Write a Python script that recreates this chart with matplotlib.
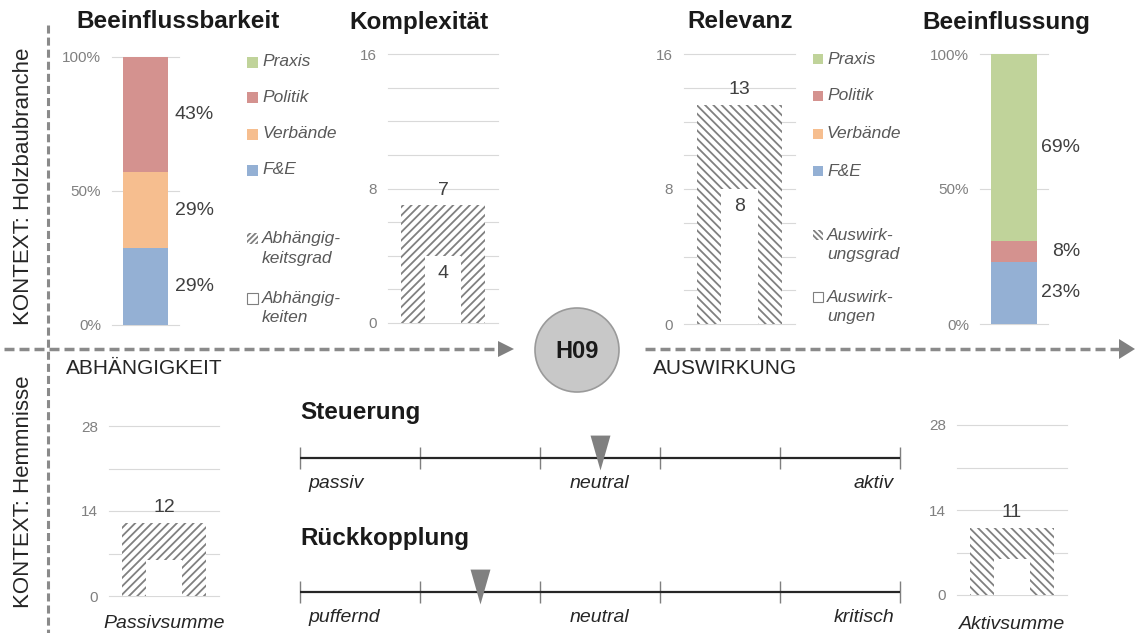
import numpy as np
import matplotlib
matplotlib.use("Agg")
import matplotlib.pyplot as plt
from matplotlib.patches import Circle, Rectangle, Polygon

plt.rcParams["font.family"] = ["Liberation Sans", "DejaVu Sans"]
plt.rcParams["hatch.linewidth"] = 1.3
plt.rcParams["hatch.color"] = "#808080"
plt.rcParams["lines.scale_dashes"] = False

W, H = 1135, 633

# ---- data ----
sources = ["Praxis", "Politik", "Verbände", "F&E"]
source_colors = ["#c0d39a", "#d4928f", "#f6be8f", "#94b0d4"]
beeinflussbarkeit = [0, 3, 2, 2]     # Nennungen je Akteursgruppe
beeinflussung = [9, 1, 0, 3]

abhaengigkeitsgrad = 7
abhaengigkeiten = 4
auswirkungsgrad = 13
auswirkungen = 8
passivsumme = 12
passiv_basis = 6
aktivsumme = 11
aktiv_basis = 6

steuerung = 0.0          # Skala -1 (passiv) .. 1 (aktiv)
rueckkopplung = -0.4     # Skala -1 (puffernd) .. 1 (kritisch)
steuerung_labels = ["passiv", "neutral", "aktiv"]
rueckkopplung_labels = ["puffernd", "neutral", "kritisch"]

TITLE = "#1a1a1a"
LABEL = "#404040"
TICK = "#808080"
LEGEND = "#595959"
GRID = "#d9d9d9"
HATCH = "#808080"
DASH = "#8a8a8a"
FWD, BWD = "////", "\\\\\\\\"

fig = plt.figure(figsize=(W / 100, H / 100), dpi=100)

ov = fig.add_axes([0, 0, 1, 1])
ov.set_xlim(0, W)
ov.set_ylim(H, 0)
ov.axis("off")


def px_axes(x0, y0, x1, y1):
    ax = fig.add_axes([x0 / W, 1 - y1 / H, (x1 - x0) / W, (y1 - y0) / H])
    ax.set_facecolor("none")
    for s in ax.spines.values():
        s.set_visible(False)
    ax.tick_params(axis="both", length=0, labelsize=11, labelcolor=TICK, pad=8)
    ax.set_xticks([])
    return ax


def grid(ax, values):
    for v in values:
        ax.axhline(v, color=GRID, lw=0.8, zorder=1, clip_on=False)


def stacked(ax, counts, label_x):
    total = sum(counts)
    shares = [100 * c / total for c in counts]
    bottom = 0
    for share, color in zip(shares[::-1], source_colors[::-1]):
        if share > 0:
            ax.bar(0, share, bottom=bottom, width=0.67, color=color, lw=0, zorder=2)
            ax.text(label_x, bottom + share / 2, f"{share:.0f}%", ha="right",
                    va="center", fontsize=14, color=LABEL)
        bottom += share
    ax.set_xlim(-0.5, 0.5)
    ax.set_ylim(0, 100)
    grid(ax, [0, 50, 100])
    ax.set_yticks([0, 50, 100], ["0%", "50%", "100%"])


def hatched(ax, outer, inner, hatch, ymax, step, ticks, w_out, w_in, inner_label=True):
    ax.bar(0, outer, width=w_out, facecolor="white", edgecolor=HATCH, lw=0,
           hatch=hatch, zorder=2)
    ax.bar(0, inner, width=w_in, facecolor="white", edgecolor="white", lw=0, zorder=3)
    ax.annotate(str(outer), (0, outer), xytext=(0, 11), textcoords="offset points",
                ha="center", va="center", fontsize=14, color=LABEL, zorder=4)
    if inner_label:
        ax.annotate(str(inner), (0, inner), xytext=(0, -12.5), textcoords="offset points",
                    ha="center", va="center", fontsize=14, color=LABEL, zorder=4)
    ax.set_xlim(-0.5, 0.5)
    ax.set_ylim(0, ymax)
    grid(ax, np.arange(0, ymax + step, step))
    ax.set_yticks(ticks)


# ---- top row ----
ax1 = px_axes(112, 57, 179, 325)
stacked(ax1, beeinflussbarkeit, 1.02)

ax2 = px_axes(388, 54, 498, 323)
hatched(ax2, abhaengigkeitsgrad, abhaengigkeiten, FWD, 16, 2, [0, 8, 16], 0.77, 0.33)

ax3 = px_axes(684, 54, 795, 324)
hatched(ax3, auswirkungsgrad, auswirkungen, BWD, 16, 2, [0, 8, 16], 0.77, 0.33)

ax4 = px_axes(980, 54, 1048, 324)
stacked(ax4, beeinflussung, 0.97)

# ---- bottom row ----
ax5 = px_axes(109, 426, 219, 596)
hatched(ax5, passivsumme, passiv_basis, FWD, 28, 7, [0, 14, 28], 0.76, 0.32, False)
ax5.set_xticks([0], ["Passivsumme"])
ax5.tick_params(axis="x", labelsize=14, labelcolor="#262626", pad=14)
ax5.get_xticklabels()[0].set_fontstyle("italic")

ax6 = px_axes(957, 425, 1067, 595)
hatched(ax6, aktivsumme, aktiv_basis, BWD, 28, 7, [0, 14, 28], 0.77, 0.33, False)
ax6.set_xticks([0], ["Aktivsumme"])
ax6.tick_params(axis="x", labelsize=14, labelcolor="#262626", pad=15)
ax6.get_xticklabels()[0].set_fontstyle("italic")

# ---- titles ----
for x, t in [(178, "Beeinflussbarkeit"), (419, "Komplexität"),
             (740, "Relevanz"), (1006, "Beeinflussung")]:
    ov.text(x, 22, t, ha="center", va="center", fontsize=17.5,
            fontweight="bold", color=TITLE)


# ---- legends ----
def legend(mx, tx, ys, extra, sq=10):
    h2 = sq / 2
    for (y, name, color) in zip(ys, sources, source_colors):
        ov.add_patch(Rectangle((mx - h2, y - h2), sq, sq, facecolor=color, lw=0))
        ov.text(tx, y, name, ha="left", va="center", fontsize=12.5,
                fontstyle="italic", color=LEGEND)
    (y1, l1a, l1b, h), (y2, l2a, l2b) = extra
    ov.add_patch(Rectangle((mx - h2, y1 - h2), sq, sq, facecolor="white",
                           edgecolor=HATCH, lw=0, hatch=h))
    ov.text(tx, y1, l1a, ha="left", va="center", fontsize=12.5,
            fontstyle="italic", color=LEGEND)
    ov.text(tx, y1 + 20, l1b, ha="left", va="center", fontsize=12.5,
            fontstyle="italic", color=LEGEND)
    ov.add_patch(Rectangle((mx - h2, y2 - h2), sq, sq, facecolor="white",
                           edgecolor="#7f7f7f", lw=0.8))
    ov.text(tx, y2, l2a, ha="left", va="center", fontsize=12.5,
            fontstyle="italic", color=LEGEND)
    ov.text(tx, y2 + 20, l2b, ha="left", va="center", fontsize=12.5,
            fontstyle="italic", color=LEGEND)


legend(252, 262, [62, 97, 134, 170],
       [(238, "Abhängig-", "keitsgrad", "//////"), (298, "Abhängig-", "keiten")], sq=11)
legend(818, 827, [59, 96, 134, 171],
       [(235, "Auswirk-", "ungsgrad", "\\\\\\\\\\\\"), (297, "Auswirk-", "ungen")])

# ---- frame lines ----
ov.plot([48, 48], [25, H], color=DASH, lw=2.2, linestyle=(0, (5.8, 2.9)),
        dash_capstyle="butt")
ov.plot([4, 498], [349, 349], color=DASH, lw=2.5, linestyle=(0, (7.2, 3.6)),
        dash_capstyle="butt")
ov.plot([645, 1119], [349, 349], color=DASH, lw=2.5, linestyle=(0, (7.2, 3.6)),
        dash_capstyle="butt")
ov.add_patch(Polygon([(498, 341), (514, 349), (498, 357)], closed=True,
                     facecolor="#808080", lw=0))
ov.add_patch(Polygon([(1119, 339), (1135, 349), (1119, 359)], closed=True,
                     facecolor="#808080", lw=0))

ov.add_patch(Circle((577, 350), 42, facecolor="#c8c8c8", edgecolor="#9a9a9a", lw=1.2))
ov.text(577, 351, "H09", ha="center", va="center", fontsize=17,
        fontweight="bold", color="#1a1a1a")

ov.text(24, 186, "KONTEXT: Holzbaubranche", rotation=90, ha="center",
        va="center", fontsize=16, color="#262626")
ov.text(24, 492, "KONTEXT: Hemmnisse", rotation=90, ha="center",
        va="center", fontsize=16, color="#262626")
ov.text(66, 369, "ABHÄNGIGKEIT", ha="left", va="center", fontsize=15, color="#262626")
ov.text(653, 369, "AUSWIRKUNG", ha="left", va="center", fontsize=15, color="#262626")

# ---- Steuerung / Rückkopplung scales ----
triangle = [(-10, 23), (10, 23), (0, -12)]


def scale(line_y, title_y, title, value, labels):
    ov.text(300, title_y, title, ha="left", va="center", fontsize=17.5,
            fontweight="bold", color=TITLE)
    ax = px_axes(300, line_y - 30, 900, line_y + 30)
    ax.set_xlim(-1, 1)
    ax.set_ylim(-30, 30)
    ax.set_yticks([])
    ax.vlines(np.linspace(-1, 1, 6), -11, 11, color="#7f7f7f", lw=1, clip_on=False)
    ax.hlines(0, -1, 1, color="#262626", lw=1.6, clip_on=False)
    ax.plot(value, 0, marker=triangle, ms=33, color="#808080", mew=0,
            clip_on=False, zorder=5)
    for x, lab, ha in zip([-0.973, 0, 0.98], labels, ["left", "center", "right"]):
        ax.text(x, -26, lab, ha=ha, va="center", fontsize=14,
                fontstyle="italic", color="#262626")


scale(458, 413, "Steuerung", steuerung, steuerung_labels)
scale(592, 538, "Rückkopplung", rueckkopplung, rueckkopplung_labels)

fig.savefig("out.png", dpi=100)
